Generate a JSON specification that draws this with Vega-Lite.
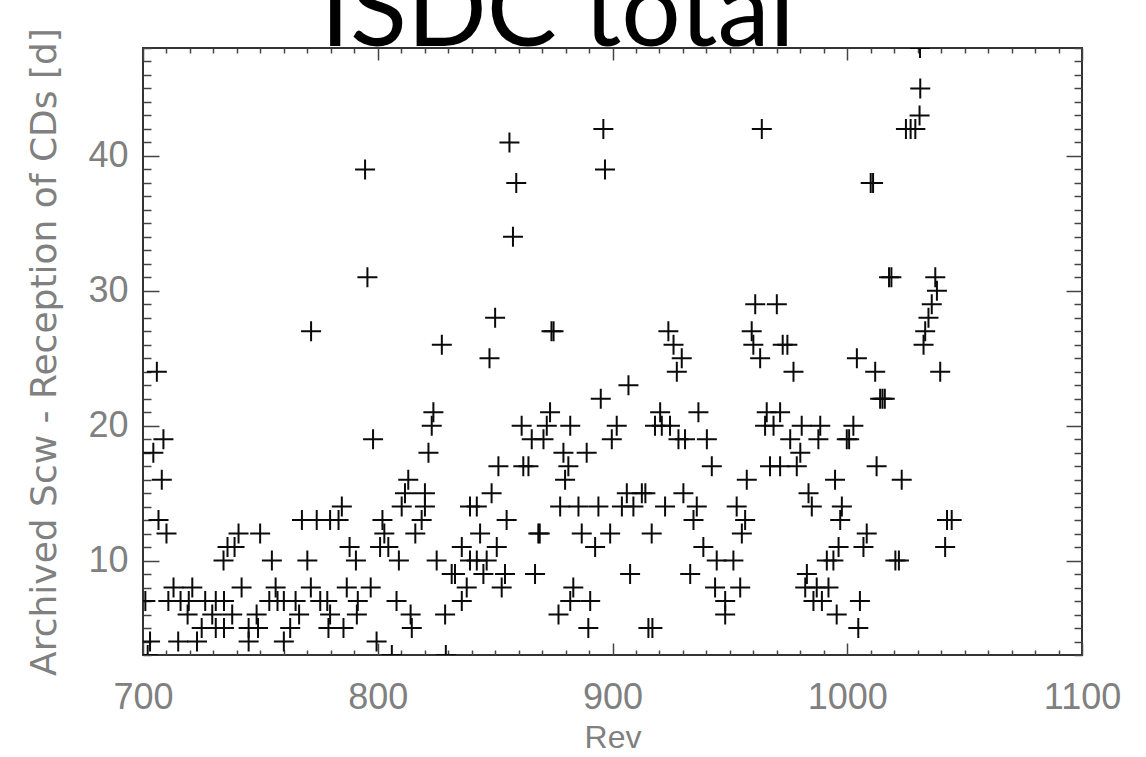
{
  "$schema": "https://vega.github.io/schema/vega-lite/v6.json",
  "width": 939,
  "height": 607,
  "autosize": "none",
  "padding": {"left": 143, "top": 48, "right": 64, "bottom": 102},
  "background": "white",
  "config": {
    "view": {"stroke": "#333", "strokeWidth": 2},
    "axis": {
      "grid": false,
      "domain": false,
      "tickColor": "#444",
      "tickWidth": 1.5,
      "labelFont": "Liberation Sans",
      "labelFontSize": 36,
      "labelColor": "#808080",
      "titleFont": "Liberation Sans",
      "titleFontSize": 34,
      "titleFontWeight": "normal",
      "titleColor": "#808080",
      "labelFlush": false,
      "labelOverlap": false,
      "format": "d"
    }
  },
  "title": {
    "text": "ISDC total",
    "font": "Lato",
    "fontSize": 105,
    "fontWeight": "normal",
    "color": "black",
    "anchor": "middle",
    "dx": -55,
    "dy": 123,
    "baseline": "alphabetic",
    "offset": 0
  },
  "data": {
    "values": [
      {"rev": 705.9, "days": 24}, {"rev": 708.7, "days": 19}, {"rev": 704.4, "days": 18}, {"rev": 708, "days": 16},
      {"rev": 706.6, "days": 13}, {"rev": 710, "days": 12}, {"rev": 771.6, "days": 27}, {"rev": 795.6, "days": 31},
      {"rev": 794.6, "days": 39}, {"rev": 798, "days": 19}, {"rev": 784.7, "days": 14},
      {"rev": 767.7, "days": 13}, {"rev": 774, "days": 13}, {"rev": 779.7, "days": 13}, {"rev": 783.3, "days": 13}, {"rev": 802, "days": 13},
      {"rev": 740.7, "days": 12}, {"rev": 749.9, "days": 12}, {"rev": 802.8, "days": 12}, {"rev": 816, "days": 12},
      {"rev": 736, "days": 11}, {"rev": 739, "days": 11}, {"rev": 788, "days": 11}, {"rev": 801, "days": 11}, {"rev": 804.5, "days": 11},
      {"rev": 734.3, "days": 10}, {"rev": 754.9, "days": 10}, {"rev": 770, "days": 10}, {"rev": 790.7, "days": 10}, {"rev": 809, "days": 10},
      {"rev": 713, "days": 8}, {"rev": 721, "days": 8}, {"rev": 742, "days": 8}, {"rev": 756.5, "days": 8}, {"rev": 771.5, "days": 8}, {"rev": 786.8, "days": 8}, {"rev": 797, "days": 8},
      {"rev": 701, "days": 7}, {"rev": 710.8, "days": 7}, {"rev": 716, "days": 7}, {"rev": 719.5, "days": 7}, {"rev": 726.5, "days": 7}, {"rev": 731, "days": 7},
      {"rev": 734.5, "days": 7}, {"rev": 753.8, "days": 7}, {"rev": 757.3, "days": 7}, {"rev": 760, "days": 7}, {"rev": 765, "days": 7}, {"rev": 775.5, "days": 7},
      {"rev": 778.5, "days": 7}, {"rev": 791.5, "days": 7}, {"rev": 808, "days": 7},
      {"rev": 719, "days": 6}, {"rev": 729.5, "days": 6}, {"rev": 738, "days": 6}, {"rev": 748.4, "days": 6}, {"rev": 766.5, "days": 6}, {"rev": 779.7, "days": 6}, {"rev": 791.1, "days": 6}, {"rev": 814, "days": 6},
      {"rev": 725, "days": 5}, {"rev": 731, "days": 5}, {"rev": 734.5, "days": 5}, {"rev": 745, "days": 5}, {"rev": 749, "days": 5}, {"rev": 762.7, "days": 5}, {"rev": 779, "days": 5}, {"rev": 785.4, "days": 5}, {"rev": 814.5, "days": 5},
      {"rev": 703, "days": 4}, {"rev": 715, "days": 4}, {"rev": 723, "days": 4}, {"rev": 745, "days": 4}, {"rev": 760, "days": 4}, {"rev": 799.5, "days": 4},
      {"rev": 702, "days": 3}, {"rev": 806, "days": 3}, {"rev": 829, "days": 3},
      {"rev": 856.1, "days": 41}, {"rev": 859, "days": 38}, {"rev": 857.6, "days": 34}, {"rev": 850, "days": 28}, {"rev": 827.3, "days": 26}, {"rev": 847.6, "days": 25},
      {"rev": 874.9, "days": 27}, {"rev": 874, "days": 27}, {"rev": 895, "days": 22},
      {"rev": 823.7, "days": 21}, {"rev": 873.4, "days": 21},
      {"rev": 823, "days": 20}, {"rev": 861.3, "days": 20}, {"rev": 872, "days": 20}, {"rev": 882, "days": 20},
      {"rev": 865.6, "days": 19}, {"rev": 870.6, "days": 19},
      {"rev": 821.6, "days": 18}, {"rev": 879.1, "days": 18}, {"rev": 889, "days": 18},
      {"rev": 851.4, "days": 17}, {"rev": 862, "days": 17}, {"rev": 864.2, "days": 17}, {"rev": 881.2, "days": 17},
      {"rev": 813, "days": 16}, {"rev": 879.8, "days": 16},
      {"rev": 811.6, "days": 15}, {"rev": 820.1, "days": 15}, {"rev": 848.5, "days": 15},
      {"rev": 810.2, "days": 14}, {"rev": 820.1, "days": 14}, {"rev": 839.3, "days": 14}, {"rev": 842.2, "days": 14}, {"rev": 877.7, "days": 14}, {"rev": 885.5, "days": 14}, {"rev": 894, "days": 14},
      {"rev": 818.7, "days": 13}, {"rev": 854.9, "days": 13},
      {"rev": 843.6, "days": 12}, {"rev": 868.4, "days": 12}, {"rev": 869, "days": 12}, {"rev": 886.9, "days": 12},
      {"rev": 835.8, "days": 11}, {"rev": 850.7, "days": 11}, {"rev": 892.6, "days": 11},
      {"rev": 825.1, "days": 10}, {"rev": 839.3, "days": 10}, {"rev": 842.2, "days": 10}, {"rev": 846.4, "days": 10},
      {"rev": 831.5, "days": 9}, {"rev": 832.9, "days": 9}, {"rev": 845, "days": 9}, {"rev": 854.2, "days": 9}, {"rev": 867, "days": 9},
      {"rev": 837.9, "days": 8}, {"rev": 852.8, "days": 8}, {"rev": 883.3, "days": 8},
      {"rev": 835.8, "days": 7}, {"rev": 882, "days": 7}, {"rev": 890.5, "days": 7},
      {"rev": 828.7, "days": 6}, {"rev": 877, "days": 6}, {"rev": 889.7, "days": 5},
      {"rev": 896.1, "days": 42}, {"rev": 963.6, "days": 42}, {"rev": 896.8, "days": 39},
      {"rev": 960.8, "days": 29}, {"rev": 970, "days": 29},
      {"rev": 923.8, "days": 27}, {"rev": 959.3, "days": 27},
      {"rev": 926, "days": 26}, {"rev": 960, "days": 26}, {"rev": 972.5, "days": 26}, {"rev": 974.5, "days": 26},
      {"rev": 929.5, "days": 25}, {"rev": 962.9, "days": 25}, {"rev": 927.4, "days": 24}, {"rev": 977.1, "days": 24},
      {"rev": 906.8, "days": 23},
      {"rev": 920.3, "days": 21}, {"rev": 936.6, "days": 21}, {"rev": 965.7, "days": 21}, {"rev": 971.4, "days": 21},
      {"rev": 901.8, "days": 20}, {"rev": 918.1, "days": 20}, {"rev": 921, "days": 20}, {"rev": 924.5, "days": 20}, {"rev": 965, "days": 20}, {"rev": 968.6, "days": 20}, {"rev": 980.6, "days": 20}, {"rev": 988.5, "days": 20},
      {"rev": 899.7, "days": 19}, {"rev": 928.1, "days": 19}, {"rev": 930.9, "days": 19}, {"rev": 940.2, "days": 19}, {"rev": 975.7, "days": 19}, {"rev": 987.7, "days": 19}, {"rev": 999.8, "days": 19}, {"rev": 1000.8, "days": 19},
      {"rev": 980, "days": 18},
      {"rev": 942.3, "days": 17}, {"rev": 967.1, "days": 17}, {"rev": 971.4, "days": 17}, {"rev": 978.5, "days": 17},
      {"rev": 957.2, "days": 16}, {"rev": 994.8, "days": 16},
      {"rev": 906.1, "days": 15}, {"rev": 912.5, "days": 15}, {"rev": 914, "days": 15}, {"rev": 930.2, "days": 15}, {"rev": 983.5, "days": 15},
      {"rev": 904, "days": 14}, {"rev": 908.9, "days": 14}, {"rev": 922.4, "days": 14}, {"rev": 935.9, "days": 14}, {"rev": 952.9, "days": 14}, {"rev": 984.9, "days": 14}, {"rev": 997.7, "days": 14},
      {"rev": 934.5, "days": 13}, {"rev": 956.5, "days": 13}, {"rev": 997, "days": 13},
      {"rev": 899, "days": 12}, {"rev": 916.7, "days": 12}, {"rev": 955.1, "days": 12},
      {"rev": 938.7, "days": 11}, {"rev": 996.3, "days": 11},
      {"rev": 944.4, "days": 10}, {"rev": 951.5, "days": 10}, {"rev": 991.3, "days": 10}, {"rev": 994.1, "days": 10},
      {"rev": 907.5, "days": 9}, {"rev": 933.1, "days": 9}, {"rev": 982.8, "days": 9},
      {"rev": 943.7, "days": 8}, {"rev": 954.4, "days": 8}, {"rev": 982.1, "days": 8}, {"rev": 987, "days": 8}, {"rev": 992, "days": 8},
      {"rev": 948, "days": 7}, {"rev": 985.6, "days": 7}, {"rev": 989.2, "days": 7},
      {"rev": 948, "days": 6}, {"rev": 995.5, "days": 6},
      {"rev": 915.3, "days": 5}, {"rev": 917, "days": 5},
      {"rev": 1031, "days": 48}, {"rev": 1031.1, "days": 45}, {"rev": 1030.8, "days": 43},
      {"rev": 1025, "days": 42}, {"rev": 1027, "days": 42}, {"rev": 1029, "days": 42},
      {"rev": 1010, "days": 38}, {"rev": 1011, "days": 38},
      {"rev": 1017.8, "days": 31}, {"rev": 1018.8, "days": 31}, {"rev": 1037.5, "days": 31}, {"rev": 1038.2, "days": 30},
      {"rev": 1036, "days": 29}, {"rev": 1034.6, "days": 28}, {"rev": 1033.2, "days": 27}, {"rev": 1032.5, "days": 26},
      {"rev": 1004.1, "days": 25}, {"rev": 1011.9, "days": 24}, {"rev": 1039.6, "days": 24},
      {"rev": 1014, "days": 22}, {"rev": 1015, "days": 22}, {"rev": 1016, "days": 22},
      {"rev": 1002.6, "days": 20}, {"rev": 1012.5, "days": 17}, {"rev": 1023.2, "days": 16},
      {"rev": 1042.5, "days": 13}, {"rev": 1044.5, "days": 13},
      {"rev": 1008.3, "days": 12}, {"rev": 1006.9, "days": 11}, {"rev": 1041.7, "days": 11},
      {"rev": 1020.5, "days": 10}, {"rev": 1022, "days": 10},
      {"rev": 1005.4, "days": 7}, {"rev": 1004.7, "days": 5}
    ]
  },
  "layer": [
    {
      "mark": {"type": "point", "shape": "M-1,0H1M0,-1V1", "size": 400, "filled": false, "stroke": "#0a0a0a", "strokeWidth": 2, "opacity": 1, "clip": true},
      "encoding": {
        "x": {
          "field": "rev", "type": "quantitative",
          "scale": {"domain": [700, 1100], "nice": false, "zero": false},
          "axis": {
            "orient": "bottom",
            "values": [700,710,720,730,740,750,760,770,780,790,800,810,820,830,840,850,860,870,880,890,900,910,920,930,940,950,960,970,980,990,1000,1010,1020,1030,1040,1050,1060,1070,1080,1090,1100],
            "labelExpr": "datum.value % 100 === 0 ? datum.label : ''",
            "tickSize": {"condition": {"test": "datum.value % 100 === 0", "value": -12}, "value": -5},
            "labelPadding": 37,
            "title": "Rev",
            "titleFontSize": 32,
            "titlePadding": 0
          }
        },
        "y": {
          "field": "days", "type": "quantitative",
          "scale": {"domain": [3, 48], "nice": false, "zero": false},
          "axis": {
            "orient": "left",
            "values": [3,4,5,6,7,8,9,10,11,12,13,14,15,16,17,18,19,20,21,22,23,24,25,26,27,28,29,30,31,32,33,34,35,36,37,38,39,40,41,42,43,44,45,46,47,48],
            "labelExpr": "datum.value % 10 === 0 ? datum.label : ''",
            "tickSize": {"condition": {"test": "datum.value % 10 === 0", "value": -16}, "value": -8},
            "labelPadding": 31,
            "title": "Archived Scw - Reception of CDs [d]",
            "titleFont": "DejaVu Sans",
            "titleFontSize": 36,
            "titlePadding": 24
          }
        }
      }
    },
    {
      "mark": {"type": "point", "opacity": 0, "clip": true},
      "encoding": {
        "x": {
          "field": "rev", "type": "quantitative",
          "scale": {"domain": [700, 1100], "nice": false, "zero": false},
          "axis": {
            "orient": "top",
            "values": [700,710,720,730,740,750,760,770,780,790,800,810,820,830,840,850,860,870,880,890,900,910,920,930,940,950,960,970,980,990,1000,1010,1020,1030,1040,1050,1060,1070,1080,1090,1100],
            "labels": false,
            "tickSize": {"condition": {"test": "datum.value % 100 === 0", "value": -12}, "value": -5},
            "title": null
          }
        },
        "y": {
          "field": "days", "type": "quantitative",
          "scale": {"domain": [3, 48], "nice": false, "zero": false},
          "axis": {
            "orient": "right",
            "values": [3,4,5,6,7,8,9,10,11,12,13,14,15,16,17,18,19,20,21,22,23,24,25,26,27,28,29,30,31,32,33,34,35,36,37,38,39,40,41,42,43,44,45,46,47,48],
            "labels": false,
            "tickSize": {"condition": {"test": "datum.value % 10 === 0", "value": -16}, "value": -8},
            "title": null
          }
        }
      }
    }
  ]
}
